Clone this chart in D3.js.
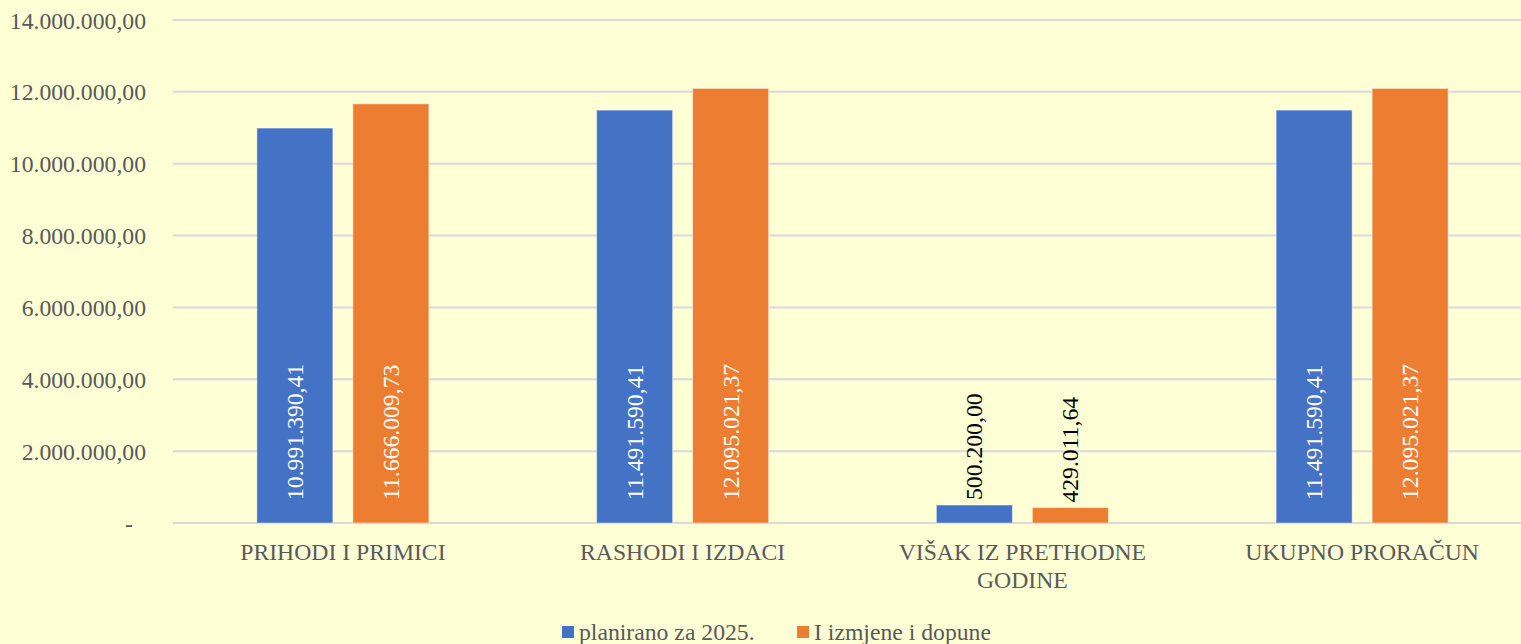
<!DOCTYPE html>
<html><head><meta charset="utf-8">
<script src="https://cdn.jsdelivr.net/npm/d3@7"></script>
<style>
html,body{margin:0;padding:0;background:#FFFFD5;}
svg{display:block;}
</style></head>
<body>
<svg id="chart" width="1521" height="644"></svg>
<script>
const categories = ["PRIHODI I PRIMICI", "RASHODI I IZDACI", "VIŠAK IZ PRETHODNE GODINE", "UKUPNO PRORAČUN"];
const categoryLines = [["PRIHODI I PRIMICI"], ["RASHODI I IZDACI"], ["VIŠAK IZ PRETHODNE", "GODINE"], ["UKUPNO PRORAČUN"]];
const seriesNames = ["planirano za 2025.", "I izmjene i dopune"];
const planirano = [10991390.41, 11491590.41, 500200.00, 11491590.41];
const izmjene = [11666009.73, 12095021.37, 429011.64, 12095021.37];
const yTicks = [0, 2000000, 4000000, 6000000, 8000000, 10000000, 12000000, 14000000];
const colors = ["#4472C4", "#ED7D31"];

const FONT = "'Liberation Serif', 'Times New Roman', serif";
const FS = 23.7;
const svg = d3.select("#chart");
const W = 1521, H = 644;
const m = {left: 173, right: -11, top: 20, bottom: 121};
const x = d3.scaleBand().domain(categories).range([m.left, W - m.right]).paddingInner(0).paddingOuter(0);
const y = d3.scaleLinear().domain([0, 14000000]).range([H - m.bottom, m.top]);

const fmt = v => {
  const s = v.toFixed(2).split(".");
  return s[0].replace(/\B(?=(\d{3})+(?!\d))/g, ".") + "," + s[1];
};

// grid
svg.append("g").selectAll("line").data(yTicks).join("line")
  .attr("x1", m.left).attr("x2", W).attr("y1", d => y(d)).attr("y2", d => y(d))
  .attr("stroke", "#D9D9D9").attr("stroke-width", 2);

const yAxis = d3.axisLeft(y).tickValues(yTicks).tickSize(0).tickFormat(d => d === 0 ? "-" : fmt(d));
const gy = svg.append("g").attr("transform", `translate(${m.left},0)`).call(yAxis);
gy.select(".domain").remove();
gy.attr("font-family", FONT).attr("font-size", FS);
gy.selectAll("text").attr("x", d => d === 0 ? -40 : -27).attr("font-size", FS).attr("fill", "#595959")
  .attr("font-family", FONT).attr("dy", "0.34em");

const barW = 76, gap = 20;
const sub = d3.scaleOrdinal().domain([0, 1]).range([-(gap / 2 + barW), gap / 2]);
const series = [planirano, izmjene];

series.forEach((vals, si) => {
  const g = svg.append("g");
  g.selectAll("rect").data(vals).join("rect")
    .attr("x", (d, i) => x(categories[i]) + x.bandwidth() / 2 + sub(si))
    .attr("width", barW)
    .attr("y", d => y(d))
    .attr("height", d => y(0) - y(d))
    .attr("fill", colors[si])
    .attr("stroke", "rgba(255,255,255,0.45)").attr("stroke-width", 1);
  g.selectAll("text").data(vals).join("text")
    .attr("transform", (d, i) => {
      const cx = x(categories[i]) + x.bandwidth() / 2 + sub(si) + barW / 2;
      const inside = (y(0) - y(d)) > 160;
      const ty = inside ? y(0) - 23 : y(d) - 5;
      return `translate(${cx},${ty}) rotate(-90)`;
    })
    .attr("dominant-baseline", "central")
    .attr("font-family", FONT)
    .attr("font-size", FS)
    .attr("fill", d => (y(0) - y(d)) > 160 ? "#FFFFFF" : "#000000")
    .text(d => fmt(d));
});

// category labels
const gx = svg.append("g");
categoryLines.forEach((lines, i) => {
  const cx = x(categories[i]) + x.bandwidth() / 2;
  const t = gx.append("text").attr("x", cx).attr("y", 560)
    .attr("text-anchor", "middle").attr("font-family", FONT).attr("font-size", FS).attr("fill", "#595959");
  lines.forEach((l, j) => t.append("tspan").attr("x", cx).attr("dy", j === 0 ? 0 : 28).text(l));
});

// legend
const legendX = [562, 797];
seriesNames.forEach((n, i) => {
  svg.append("rect").attr("x", legendX[i]).attr("y", 626).attr("width", 12).attr("height", 12).attr("fill", colors[i]);
  svg.append("text").attr("x", legendX[i] + 17).attr("y", 640).attr("font-family", FONT).attr("font-size", FS).attr("fill", "#595959").text(n);
});
</script>
</body></html>
